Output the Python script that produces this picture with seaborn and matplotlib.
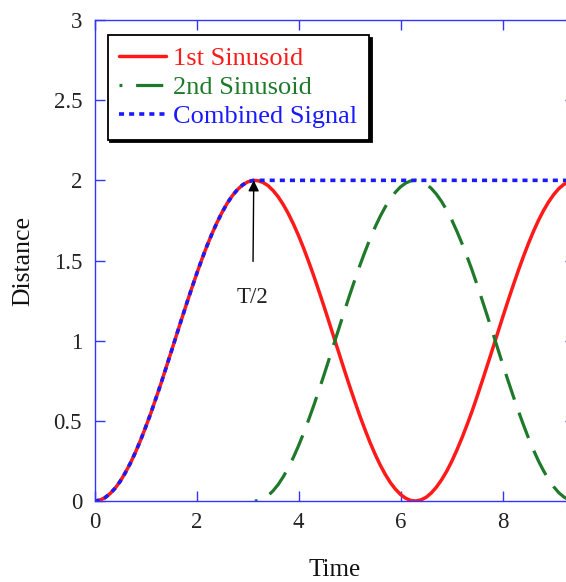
import matplotlib
matplotlib.use("Agg")
import matplotlib.pyplot as plt
import seaborn as sns

# ---- data ----
time_grid = [0.0, 0.1, 0.2, 0.3, 0.4, 0.5, 0.6, 0.7, 0.8, 0.9, 1.0, 1.1, 1.2, 1.3, 1.4, 1.5,
             1.6, 1.7, 1.8, 1.9, 2.0, 2.1, 2.2, 2.3, 2.4, 2.5, 2.6, 2.7, 2.8, 2.9, 3.0, 3.1,
             3.2, 3.3, 3.4, 3.5, 3.6, 3.7, 3.8, 3.9, 4.0, 4.1, 4.2, 4.3, 4.4, 4.5, 4.6, 4.7,
             4.8, 4.9, 5.0, 5.1, 5.2, 5.3, 5.4, 5.5, 5.6, 5.7, 5.8, 5.9, 6.0, 6.1, 6.2, 6.3,
             6.4, 6.5, 6.6, 6.7, 6.8, 6.9, 7.0, 7.1, 7.2, 7.3, 7.4, 7.5, 7.6, 7.7, 7.8, 7.9,
             8.0, 8.1, 8.2, 8.3, 8.4, 8.5, 8.6, 8.7, 8.8, 8.9, 9.0, 9.1, 9.2, 9.3, 9.4]
first_sinusoid = [0.000, 0.005, 0.020, 0.045, 0.079, 0.122, 0.175, 0.235, 0.303, 0.378, 0.460, 0.546,
                  0.638, 0.732, 0.830, 0.929, 1.029, 1.129, 1.227, 1.323, 1.416, 1.505, 1.589, 1.666,
                  1.737, 1.801, 1.857, 1.904, 1.942, 1.971, 1.990, 1.999, 1.998, 1.987, 1.967, 1.936,
                  1.897, 1.848, 1.791, 1.726, 1.654, 1.575, 1.490, 1.401, 1.307, 1.211, 1.112, 1.012,
                  0.913, 0.813, 0.716, 0.622, 0.531, 0.446, 0.365, 0.291, 0.224, 0.165, 0.114, 0.073,
                  0.040, 0.017, 0.003, 0.000, 0.007, 0.023, 0.050, 0.086, 0.131, 0.184, 0.246, 0.316,
                  0.392, 0.474, 0.560, 0.653, 0.749, 0.847, 0.946, 1.046, 1.146, 1.244, 1.339, 1.431,
                  1.519, 1.602, 1.679, 1.749, 1.811, 1.865, 1.911, 1.948, 1.975, 1.992, 2.000]

second_time = [3.14, 3.2, 3.3, 3.4, 3.5, 3.6, 3.7, 3.8, 3.9, 4.0, 4.1, 4.2, 4.3, 4.4, 4.5, 4.6, 4.7,
               4.8, 4.9, 5.0, 5.1, 5.2, 5.3, 5.4, 5.5, 5.6, 5.7, 5.8, 5.9, 6.0, 6.1, 6.2, 6.3,
               6.4, 6.5, 6.6, 6.7, 6.8, 6.9, 7.0, 7.1, 7.2, 7.3, 7.4, 7.5, 7.6, 7.7, 7.8, 7.9,
               8.0, 8.1, 8.2, 8.3, 8.4, 8.5, 8.6, 8.7, 8.8, 8.9, 9.0, 9.1, 9.2, 9.3, 9.4]
second_sinusoid = [0.000, 0.002, 0.013, 0.033, 0.064, 0.103, 0.152, 0.209, 0.274, 0.346, 0.425, 0.510,
                   0.599, 0.693, 0.789, 0.888, 0.988, 1.087, 1.187, 1.284, 1.378, 1.469, 1.554, 1.635,
                   1.709, 1.776, 1.835, 1.886, 1.927, 1.960, 1.983, 1.997, 2.000, 1.993, 1.977, 1.950,
                   1.914, 1.869, 1.816, 1.754, 1.684, 1.608, 1.526, 1.440, 1.347, 1.251, 1.153, 1.054,
                   0.954, 0.854, 0.756, 0.661, 0.569, 0.481, 0.398, 0.321, 0.251, 0.189, 0.135, 0.089,
                   0.052, 0.025, 0.008, 0.000]

combined_time = [0.0, 0.1, 0.2, 0.3, 0.4, 0.5, 0.6, 0.7, 0.8, 0.9, 1.0, 1.1, 1.2, 1.3, 1.4, 1.5,
                 1.6, 1.7, 1.8, 1.9, 2.0, 2.1, 2.2, 2.3, 2.4, 2.5, 2.6, 2.7, 2.8, 2.9, 3.0, 3.1,
                 3.14, 9.4]
combined_signal = [0.000, 0.005, 0.020, 0.045, 0.079, 0.122, 0.175, 0.235, 0.303, 0.378, 0.460, 0.546,
                   0.638, 0.732, 0.830, 0.929, 1.029, 1.129, 1.227, 1.323, 1.416, 1.505, 1.589, 1.666,
                   1.737, 1.801, 1.857, 1.904, 1.942, 1.971, 1.990, 1.999, 2.000, 2.000]

series_labels = ["1st Sinusoid", "2nd Sinusoid", "Combined Signal"]
y_ticks = [0, 0.5, 1, 1.5, 2, 2.5, 3]
y_tick_labels = ["0", "0.5", "1", "1.5", "2", "2.5", "3"]
x_ticks = [0, 2, 4, 6, 8]
x_tick_labels = ["0", "2", "4", "6", "8"]
annotation_text = "T/2"

# ---- style ----
sns.set_style("white")
plt.rcParams['font.family'] = ['Liberation Serif', 'DejaVu Serif']

RED = "#ff1a1a"
GREEN = "#1e7a2a"
BLUE = "#1a1aff"
AXBLUE = "#3333ff"

fig = plt.figure(figsize=(5.66, 5.82), dpi=100)
ax = fig.add_axes([94.6 / 566, 81 / 582, 480.5 / 566, 481 / 582])

sns.lineplot(x=time_grid, y=first_sinusoid, ax=ax, color=RED,
             linewidth=2.5, label=series_labels[0], sort=False)
sns.lineplot(x=second_time, y=second_sinusoid, ax=ax, color=GREEN,
             linewidth=2.3, linestyle=(7.6, (8.5, 4.3)), label=series_labels[1], sort=False)
sns.lineplot(x=combined_time, y=combined_signal, ax=ax, color=BLUE,
             linewidth=2.6, linestyle=(0, (1.4, 1.4)), label=series_labels[2], sort=False)

ax.set_xlim(0, 9.42)
ax.set_ylim(0, 3)
ax.set_xticks(x_ticks)
ax.set_xticklabels(x_tick_labels)
ax.set_yticks(y_ticks)
ax.set_yticklabels(y_tick_labels)

for s in ax.spines.values():
    s.set_color(AXBLUE)
    s.set_linewidth(1.0)
    s.set_visible(True)

ax.tick_params(axis='both', which='both', direction='in', length=7, width=1,
               color=AXBLUE, labelcolor='#222222', labelsize=16.5,
               top=True, right=True, bottom=True, left=True)
ax.tick_params(axis='x', pad=8)
ax.tick_params(axis='y', pad=9)

ax.set_xlabel("Time", fontsize=18, color='#111111', labelpad=19)
ax.set_ylabel("Distance", fontsize=18.5, color='#111111', labelpad=14)

ax.annotate(annotation_text, xy=(3.12, 2.0), xytext=(3.10, 1.27), ha='center', va='center',
            fontsize=16.5, color='#222222',
            arrowprops=dict(arrowstyle='-|>', color='black', lw=1, mutation_scale=16,
                            shrinkA=16, shrinkB=0))

leg = ax.legend(loc='upper left', bbox_to_anchor=(0.027, 0.969), borderaxespad=0,
                fontsize=19, frameon=True, fancybox=False, edgecolor='black',
                shadow={'color': 'black', 'alpha': 1.0},
                handlelength=1.75, handletextpad=0.28, labelspacing=0.2,
                borderpad=0.45)
leg.get_frame().set_linewidth(1.3)
for txt, c in zip(leg.get_texts(), [RED, GREEN, BLUE]):
    txt.set_color(c)

fig.savefig("out.png", dpi=100)
